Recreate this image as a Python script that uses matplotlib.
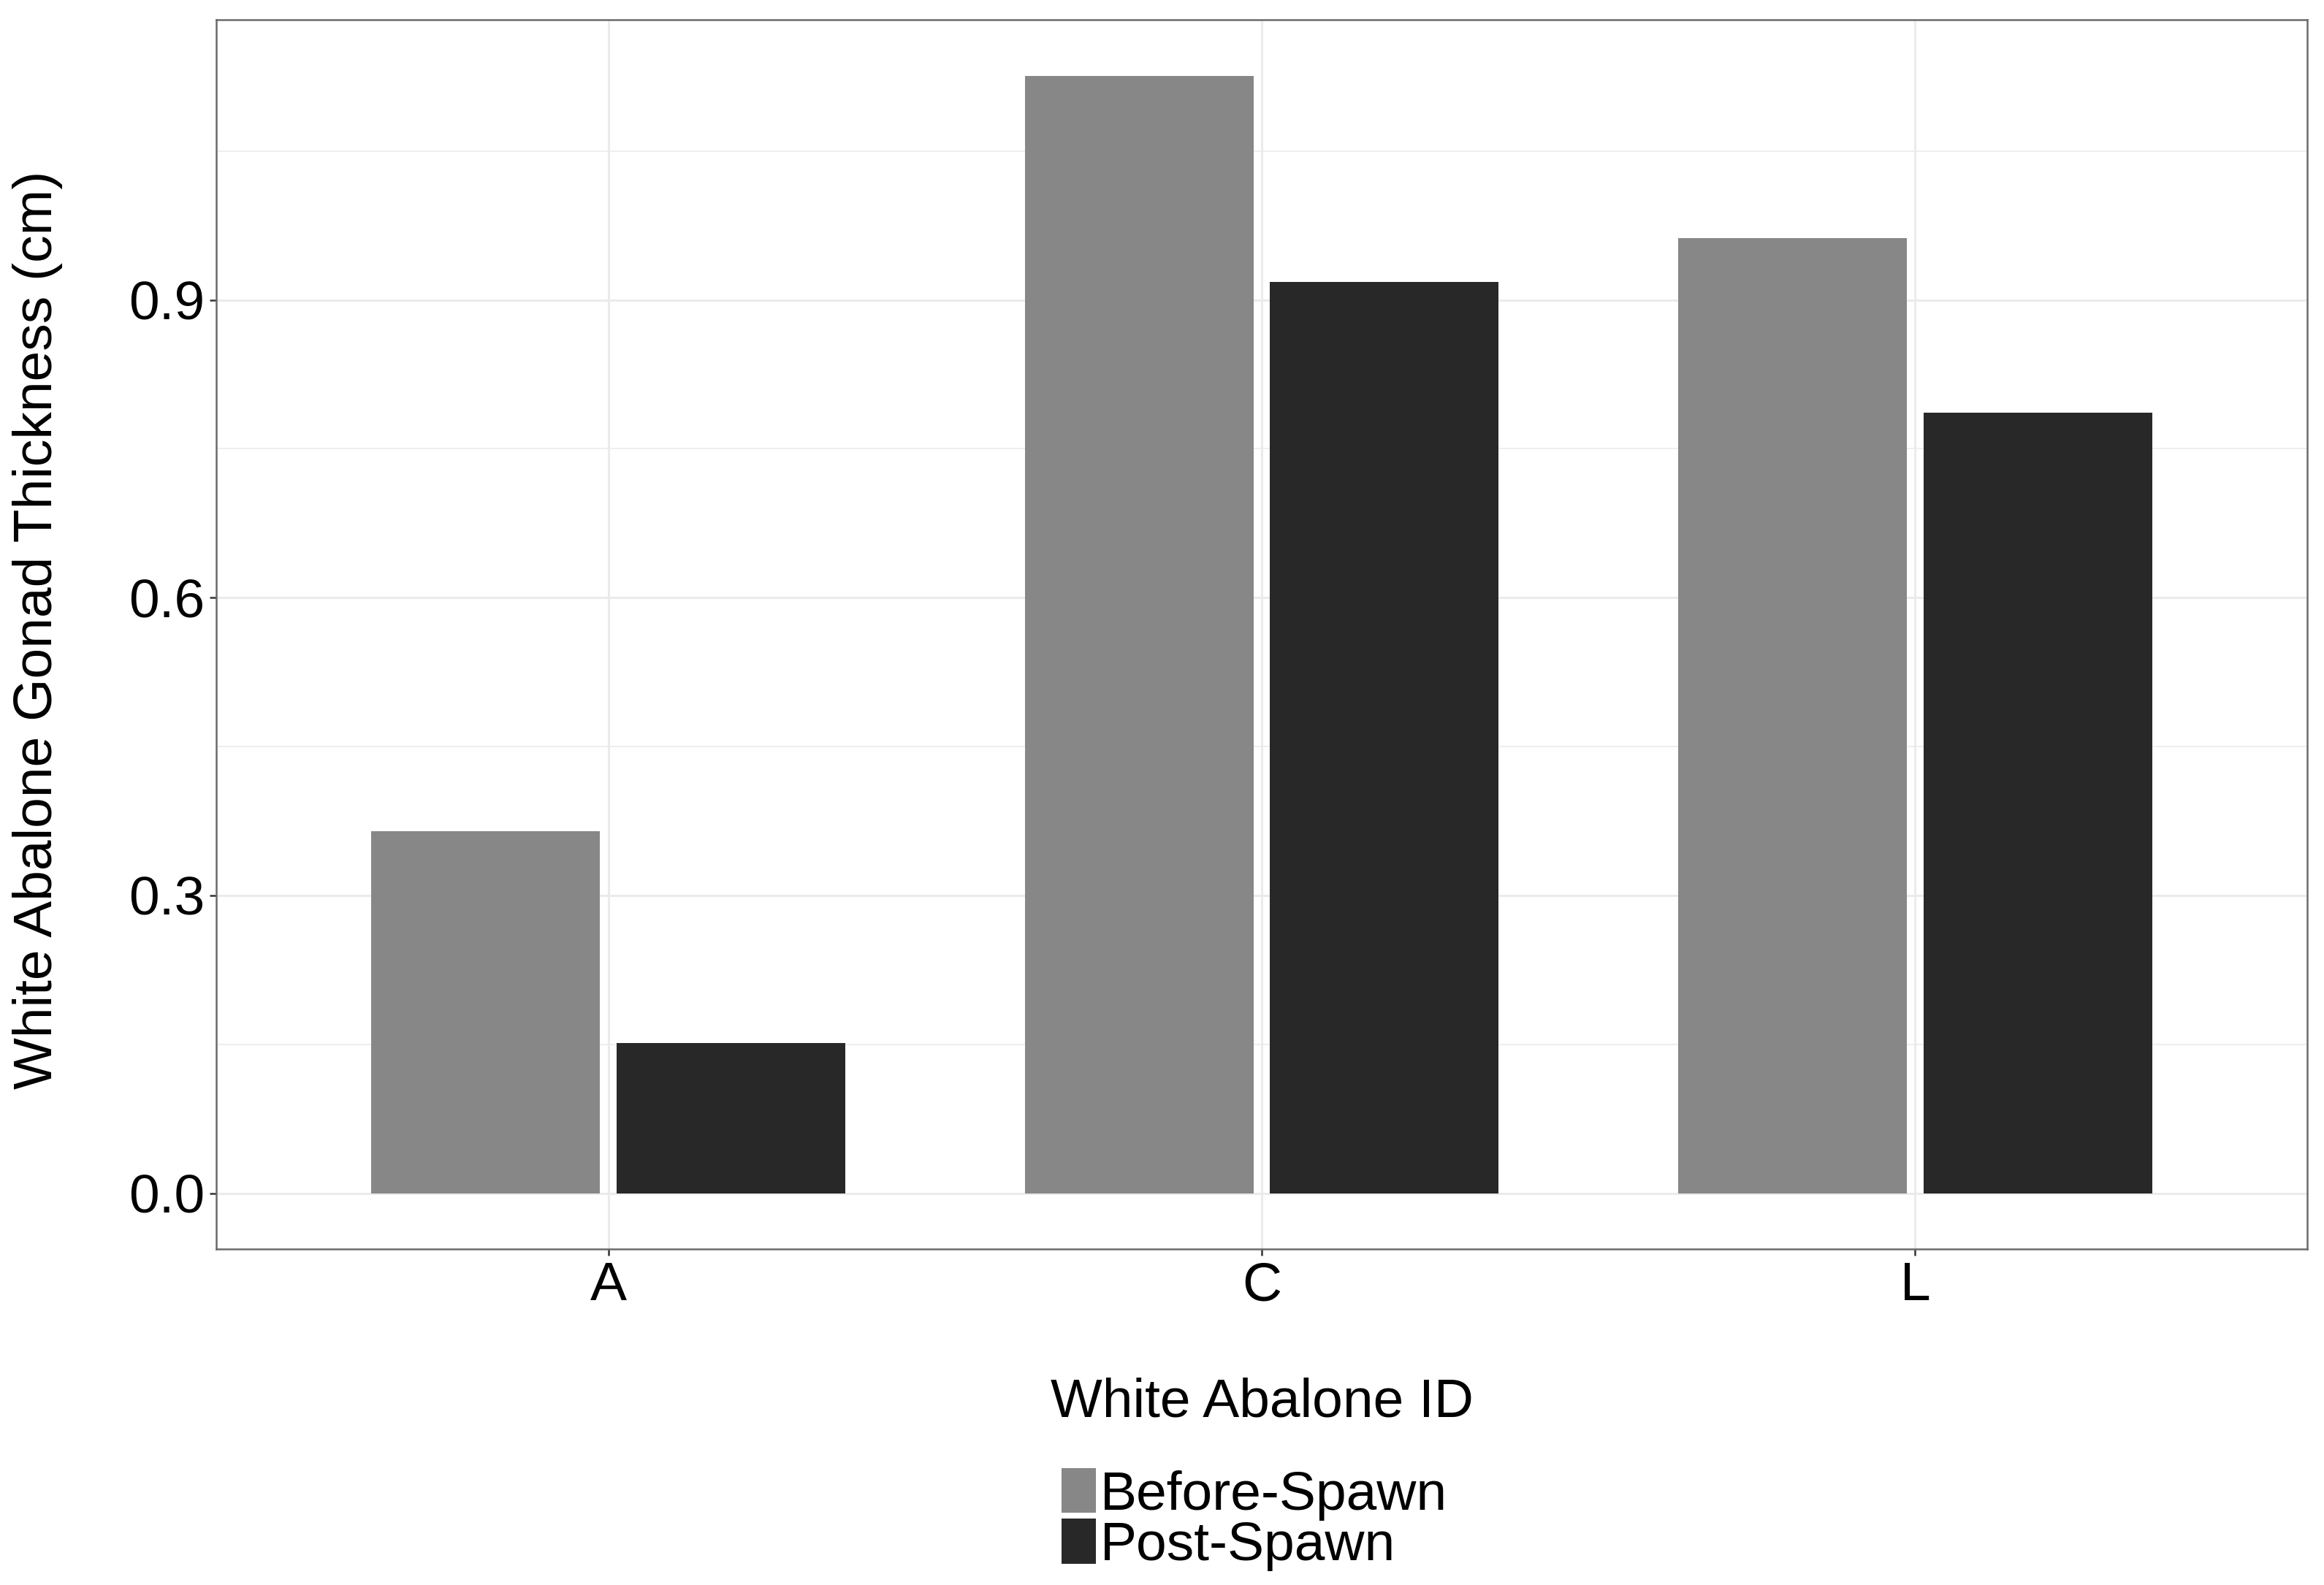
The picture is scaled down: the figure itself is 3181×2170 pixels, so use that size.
import matplotlib.pyplot as plt
import numpy as np
from matplotlib.patches import Patch

# datos
ids = ["A", "C", "L"]
grupos = ["Before-Spawn", "Post-Spawn"]
antes = [0.365, 1.126, 0.962]
despues = [0.151, 0.918, 0.786]
colores = ["#878787", "#282828"]

plt.rcParams['font.family'] = ['Liberation Sans', 'DejaVu Sans']
tam = 27

fig = plt.figure(figsize=(3181 / 200, 2170 / 200), dpi=200)
ax = fig.add_axes([296 / 3181, 1 - 1710 / 2170, (3158 - 296) / 3181, (1710 - 27) / 2170])

x = np.arange(len(ids))
ancho = 0.35
desp = 0.1875

ax.bar(x - desp, antes, width=ancho, color=colores[0], zorder=3)
ax.bar(x + desp, despues, width=ancho, color=colores[1], zorder=3)

# limites estilo ggplot (expansion 5% en y, 0.6 en x discreto)
ymax = max(max(antes), max(despues))
ax.set_ylim(-0.05 * ymax, 1.05 * ymax)
ax.set_xlim(-0.6, len(ids) - 1 + 0.6)

ax.set_xticks(x)
ax.set_xticklabels(ids)
ax.set_yticks([0.0, 0.3, 0.6, 0.9])
ax.set_yticklabels(["0.0", "0.3", "0.6", "0.9"])
ax.set_yticks([0.15, 0.45, 0.75, 1.05], minor=True)

ax.grid(True, which='major', color='#EBEBEB', linewidth=1.1, zorder=0)
ax.grid(True, which='minor', axis='y', color='#EBEBEB', linewidth=0.6, zorder=0)
ax.set_axisbelow(True)

ax.tick_params(axis='both', which='major', labelsize=tam, length=3.3, width=0.9,
               color='#333333', labelcolor='black', pad=2.5)
ax.tick_params(axis='both', which='minor', length=0)

for lado in ax.spines.values():
    lado.set_color('#6b6b6b')
    lado.set_linewidth(0.9)
    lado.set_zorder(4)

fig.text((296 + 3158) / 2 / 3181, 1 - 1939 / 2170, "White Abalone ID",
         fontsize=tam, ha='center', va='baseline')
fig.text(71 / 3181, 1 - 862 / 2170, "White Abalone Gonad Thickness (cm)",
         fontsize=tam, ha='center', va='baseline', rotation=90, rotation_mode='anchor')

manijas = [Patch(facecolor=c, edgecolor='none') for c in colores]
fig.legend(manijas, grupos, loc='upper left', bbox_to_anchor=(1453 / 3181, 1 - 2010 / 2170),
           fontsize=tam, frameon=False, handlelength=0.63, handleheight=0.88,
           handletextpad=0.08, labelspacing=-0.03, borderpad=0, borderaxespad=0)

fig.savefig("out.png", dpi=200, facecolor='white')
